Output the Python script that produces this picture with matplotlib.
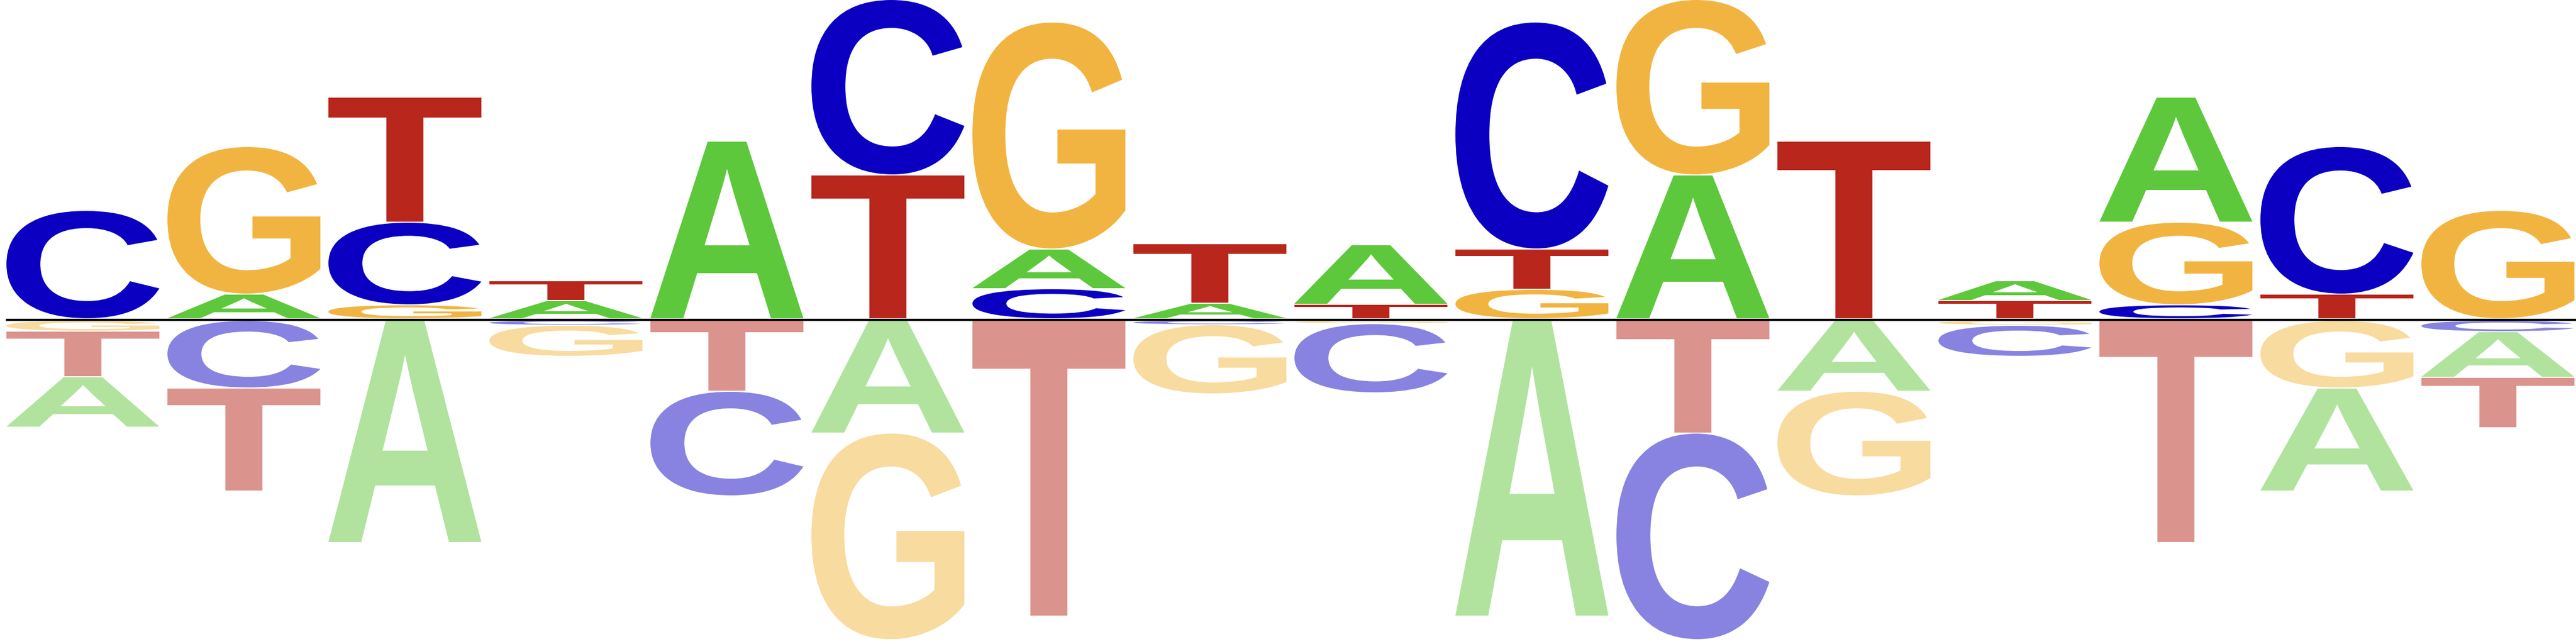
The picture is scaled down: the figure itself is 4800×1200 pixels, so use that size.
import matplotlib
matplotlib.use("Agg")
import matplotlib.pyplot as plt
from matplotlib.textpath import TextPath
from matplotlib.patches import PathPatch
from matplotlib.font_manager import FontProperties
from matplotlib.transforms import Affine2D

letters = ["A", "C", "G", "T"]
positions = list(range(16))

# heights above the baseline
pos_A = [0, 0.44, 0, 0.32, 3.29, 0, 0.72, 0.27, 1.09, 0, 2.66, 0, 0.35, 2.31, 0, 0]
pos_C = [2.00, 0, 1.52, 0, 0, 3.25, 0.54, 0, 0, 4.21, 0, 0, 0, 0.24, 2.73, 0]
pos_G = [0, 2.73, 0.24, 0, 0, 0, 4.21, 0, 0, 0.53, 3.25, 0, 0, 1.52, 0, 2.00]
pos_T = [0, 0, 2.31, 0.35, 0, 2.66, 0, 1.09, 0.25, 0.73, 0, 3.29, 0.32, 0, 0.44, 0]

# heights below the baseline
neg_A = [0.92, 0, 4.12, 0, 0, 2.08, 0, 0, 0, 5.49, 0, 1.30, 0, 0, 1.90, 0.83]
neg_C = [0, 1.24, 0, 0.07, 1.93, 0, 0, 0.06, 1.27, 0, 3.83, 0, 0.56, 0, 0, 0.19]
neg_G = [0.18, 0, 0, 0.56, 0, 3.83, 0, 1.27, 0.04, 0, 0, 1.93, 0.07, 0, 1.24, 0]
neg_T = [0.83, 1.90, 0, 0, 1.30, 0, 5.49, 0, 0, 0, 2.08, 0, 0, 4.12, 0, 0.92]

pos_colors = {"A": "#5DC83B", "C": "#0B00C1", "G": "#F2B441", "T": "#B8261C"}
neg_colors = {"A": "#B1E39E", "C": "#8883E0", "G": "#F8DB9F", "T": "#DB938E"}

pos = {"A": pos_A, "C": pos_C, "G": pos_G, "T": pos_T}
neg = {"A": neg_A, "C": neg_C, "G": neg_G, "T": neg_T}

fp = FontProperties(family="Liberation Sans", weight="bold")
glyphs = {}
for L in letters:
    tp = TextPath((0, 0), L, size=1, prop=fp)
    glyphs[L] = (tp, tp.get_extents())

fig = plt.figure(figsize=(48, 12), dpi=100)
ax = fig.add_axes([0, 0, 1, 1])
ax.set_xlim(0, 16)
ax.set_ylim(-6.045, 5.955)
ax.axis("off")

W = 0.95
X0 = 0.04
GAP = 0.02


def draw(L, x, y, h, color):
    tp, ext = glyphs[L]
    t = (Affine2D().translate(-ext.x0, -ext.y0)
         .scale(W / ext.width, h / ext.height)
         .translate(x, y))
    ax.add_patch(PathPatch(t.transform_path(tp), facecolor=color,
                           edgecolor="none", lw=0))


for i in positions:
    items = sorted([(pos[L][i], L) for L in letters if pos[L][i] > 0])
    y = 0.025
    for h, L in items:
        draw(L, i + X0, y, h, pos_colors[L])
        y += h + GAP
    items = sorted([(neg[L][i], L) for L in letters if neg[L][i] > 0])
    y = -0.025
    for h, L in items:
        draw(L, i + X0, y - h, h, neg_colors[L])
        y -= h + GAP

ax.plot([0.037, 16], [0, 0], color="black", lw=3.0, solid_capstyle="butt", zorder=5)

fig.savefig("out.png", dpi=100)
